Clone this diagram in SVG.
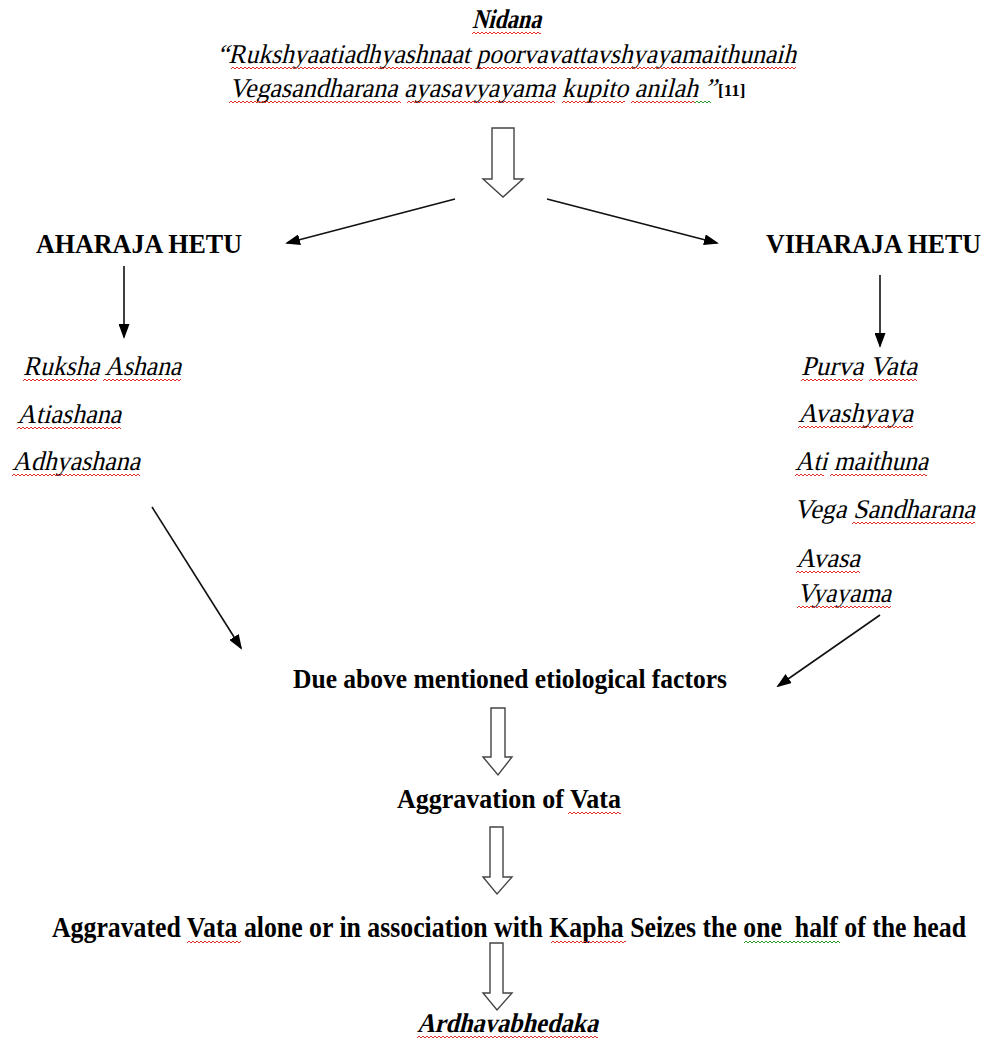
<svg xmlns="http://www.w3.org/2000/svg" width="986" height="1040" viewBox="0 0 986 1040">
  <style>
    text { font-family: "Liberation Serif", "Times New Roman", serif; font-size: 28px; fill: #000; }
    .b { font-weight: bold; }
    .i { font-size: 27px; }
    .line { stroke: #111; stroke-width: 1.6; fill: none; marker-end: url(#head); }
    .hollow { fill: #fff; stroke: #444; stroke-width: 1.4; stroke-linejoin: miter; }
    .sq { fill: url(#redWave); }
    .sqg { fill: url(#greenWave); }
  </style>
  <defs>
    <marker id="head" markerUnits="userSpaceOnUse" markerWidth="15" markerHeight="11" refX="13" refY="5.5" orient="auto">
      <path d="M0,0 L15,5.5 L0,11 z" fill="#000"/>
    </marker>
    <!-- spell-check style wavy underline -->
    <pattern id="redWave" patternUnits="userSpaceOnUse" width="4" height="4">
      <path d="M0,3 L2,1 L4,3" fill="none" stroke="#e0302c" stroke-width="1"/>
    </pattern>
    <pattern id="greenWave" patternUnits="userSpaceOnUse" width="4" height="4">
      <path d="M0,3 L2,1 L4,3" fill="none" stroke="#2f9a30" stroke-width="1"/>
    </pattern>
  </defs>

  <!-- title and verse (slanted serif text) -->
  <g id="nidana">
    <text class="b i" transform="translate(472,28) skewX(-14)" textLength="69" lengthAdjust="spacingAndGlyphs">Nidana</text>
    <rect class="sq" x="0" y="0" width="69" height="4" transform="translate(472,31)"/>
    <text class="i" transform="translate(217,63) skewX(-14)" textLength="579" lengthAdjust="spacingAndGlyphs">“Rukshyaatiadhyashnaat poorvavattavshyayamaithunaih</text>
    <rect class="sq" x="0" y="0" width="241" height="4" transform="translate(231,66)"/>
    <rect class="sq" x="0" y="0" width="318" height="4" transform="translate(478,66)"/>
    <text class="i" transform="translate(229,97) skewX(-14)" textLength="487" lengthAdjust="spacingAndGlyphs">Vegasandharana ayasavyayama kupito anilah ”</text>
    <text class="b" x="718" y="96" style="font-size:17px">[11]</text>
    <rect class="sq" x="0" y="0" width="172" height="4" transform="translate(229,100)"/>
    <rect class="sq" x="0" y="0" width="148" height="4" transform="translate(407,100)"/>
    <rect class="sq" x="0" y="0" width="63" height="4" transform="translate(562,100)"/>
    <rect class="sq" x="0" y="0" width="64" height="4" transform="translate(631,100)"/>
    <rect class="sqg" x="0" y="0" width="16" height="4" transform="translate(695,100)"/>
  </g>

  <g id="aharaja">
    <text class="b" x="36" y="253" textLength="206" lengthAdjust="spacingAndGlyphs">AHARAJA HETU</text>
  </g>
  <g id="viharaja">
    <text class="b" transform="translate(766,253) scale(1,1.15)" style="font-size:23.8px" textLength="215" lengthAdjust="spacingAndGlyphs">VIHARAJA HETU</text>
  </g>

  <g id="aharaja-list">
    <text class="i" transform="translate(23,375) skewX(-14)" textLength="158" lengthAdjust="spacingAndGlyphs">Ruksha Ashana</text>
    <rect class="sq" x="0" y="0" width="74" height="4" transform="translate(23,378)"/>
    <rect class="sq" x="0" y="0" width="78" height="4" transform="translate(103,378)"/>
    <text class="i" transform="translate(17,423) skewX(-14)" textLength="104" lengthAdjust="spacingAndGlyphs">Atiashana</text>
    <rect class="sq" x="0" y="0" width="104" height="4" transform="translate(17,426)"/>
    <text class="i" transform="translate(12,470) skewX(-14)" textLength="128" lengthAdjust="spacingAndGlyphs">Adhyashana</text>
    <rect class="sq" x="0" y="0" width="128" height="4" transform="translate(12,473)"/>
  </g>

  <g id="viharaja-list">
    <text class="i" transform="translate(801,375) skewX(-14)" textLength="116" lengthAdjust="spacingAndGlyphs">Purva Vata</text>
    <rect class="sq" x="0" y="0" width="62" height="4" transform="translate(801,378)"/>
    <rect class="sq" x="0" y="0" width="48" height="4" transform="translate(869,378)"/>
    <text class="i" transform="translate(798,422) skewX(-14)" textLength="115" lengthAdjust="spacingAndGlyphs">Avashyaya</text>
    <rect class="sq" x="0" y="0" width="115" height="4" transform="translate(798,425)"/>
    <text class="i" transform="translate(795,470) skewX(-14)" textLength="133" lengthAdjust="spacingAndGlyphs">Ati maithuna</text>
    <rect class="sq" x="0" y="0" width="29" height="4" transform="translate(795,473)"/>
    <rect class="sq" x="0" y="0" width="97" height="4" transform="translate(830,473)"/>
    <text class="i" transform="translate(794,518) skewX(-14)" textLength="181" lengthAdjust="spacingAndGlyphs">Vega Sandharana</text>
    <rect class="sq" x="0" y="0" width="123" height="4" transform="translate(852,521)"/>
    <text class="i" transform="translate(796,567) skewX(-14)" textLength="64" lengthAdjust="spacingAndGlyphs">Avasa</text>
    <rect class="sq" x="0" y="0" width="64" height="4" transform="translate(796,570)"/>
    <text class="i" transform="translate(797,602) skewX(-14)" textLength="94" lengthAdjust="spacingAndGlyphs">Vyayama</text>
    <rect class="sq" x="0" y="0" width="94" height="4" transform="translate(797,605)"/>
  </g>

  <g id="etiology">
    <text class="b" x="293" y="688" textLength="434" lengthAdjust="spacingAndGlyphs">Due above mentioned etiological factors</text>
  </g>

  <g id="aggravation">
    <text class="b" x="397" y="808" textLength="224" lengthAdjust="spacingAndGlyphs">Aggravation of Vata</text>
    <rect class="sq" x="0" y="0" width="53" height="4" transform="translate(568,811)"/>
  </g>

  <g id="seizure">
    <text class="b" transform="translate(52,937) scale(1,1.12)" style="font-size:25.5px" textLength="914" lengthAdjust="spacingAndGlyphs" xml:space="preserve">Aggravated Vata alone or in association with Kapha Seizes the one  half of the head</text>
    <rect class="sq" x="0" y="0" width="54" height="4" transform="translate(187,940)"/>
    <rect class="sq" x="0" y="0" width="75" height="4" transform="translate(551,940)"/>
    <rect class="sqg" x="0" y="0" width="96" height="4" transform="translate(744,940)"/>
  </g>

  <g id="ardhavabhedaka">
    <text class="b i" transform="translate(417,1032) skewX(-14)" textLength="181" lengthAdjust="spacingAndGlyphs">Ardhavabhedaka</text>
    <rect class="sq" x="0" y="0" width="181" height="4" transform="translate(417,1035)"/>
  </g>

  <g id="connectors">
    <!-- hollow block arrows -->
    <path class="hollow" d="M492,128 H514 V179 H523 L503,197 L483,179 H492 Z"/>
    <path class="hollow" d="M491,708 H505 V757 H512 L498,775 L483,757 H491 Z"/>
    <path class="hollow" d="M490,827 H503 V877 H512 L497,894 L483,877 H490 Z"/>
    <path class="hollow" d="M490,943 H503 V993 H512 L497,1010 L483,993 H490 Z"/>
    <!-- line arrows -->
    <line class="line" x1="455" y1="199" x2="287" y2="243"/>
    <line class="line" x1="547" y1="199" x2="717" y2="243"/>
    <line class="line" x1="124" y1="266" x2="124" y2="337"/>
    <line class="line" x1="880" y1="275" x2="880" y2="346"/>
    <line class="line" x1="152" y1="507" x2="241" y2="648"/>
    <line class="line" x1="880" y1="615" x2="778" y2="686"/>
  </g>
</svg>
